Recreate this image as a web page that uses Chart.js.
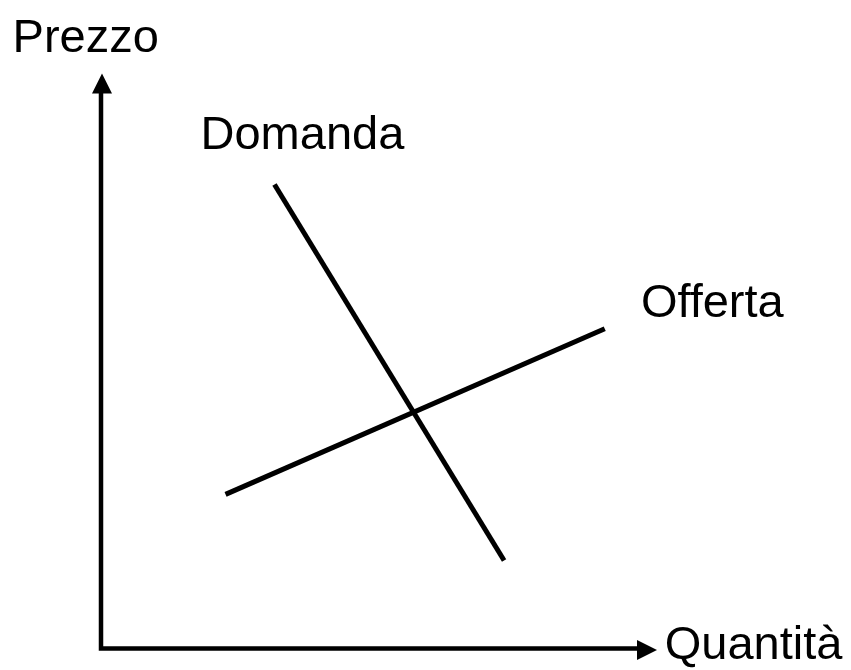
<!DOCTYPE html>
<html>
<head>
<meta charset="utf-8">
<title>Domanda e Offerta</title>
<script src="https://cdn.jsdelivr.net/npm/chart.js@4"></script>
<style>
  html, body { margin: 0; padding: 0; background: #fff; }
  canvas { display: block; }
</style>
</head>
<body>
<canvas id="myChart" width="851" height="670"></canvas>
<script>
// curve endpoints in data units (quantity, price)
const domandaX = [3.12, 7.25];
const domandaY = [8.07, 1.53];
const offertaX = [2.24, 9.06];
const offertaY = [2.68, 5.56];

// text labels anchored in data units
const labelText = ["Prezzo", "Quantità", "Domanda", "Offerta"];
const labelX = [-1.59, 10.14, 1.79, 9.71];
const labelY = [10.38, -0.19, 8.68, 5.77];

const axisMin = 0;
const axisMax = 10;

const ctx = document.getElementById("myChart").getContext("2d");

function toPoints(xs, ys) {
  return xs.map((x, i) => ({ x: x, y: ys[i] }));
}

// draws the two axes with arrow heads from the scales
const arrowAxes = {
  id: "arrowAxes",
  afterDatasetsDraw(chart) {
    const c = chart.ctx;
    const xs = chart.scales.x;
    const ys = chart.scales.y;
    const x0 = xs.getPixelForValue(axisMin);
    const y0 = ys.getPixelForValue(axisMin);
    const xEnd = xs.getPixelForValue(axisMax);
    const yEnd = ys.getPixelForValue(axisMax);
    const head = 20;
    const half = 10;
    c.save();
    c.strokeStyle = "#000";
    c.fillStyle = "#000";
    c.lineWidth = 4.5;
    c.lineCap = "square";
    c.beginPath();
    c.moveTo(x0, yEnd + head);
    c.lineTo(x0, y0);
    c.lineTo(xEnd - head, y0);
    c.stroke();
    // y arrow head
    c.beginPath();
    c.moveTo(x0 + 1, yEnd);
    c.lineTo(x0 + 1 - half, yEnd + head);
    c.lineTo(x0 + 1 + half, yEnd + head);
    c.closePath();
    c.fill();
    // x arrow head
    c.beginPath();
    c.moveTo(xEnd, y0 + 1.5);
    c.lineTo(xEnd - head, y0 + 1.5 - half);
    c.lineTo(xEnd - head, y0 + 1.5 + half);
    c.closePath();
    c.fill();
    c.restore();
  },
};

// draws the text labels at their data positions
const textLabels = {
  id: "textLabels",
  afterDraw(chart) {
    const c = chart.ctx;
    c.save();
    c.fillStyle = "#000";
    c.font = '47px "Liberation Sans", Arial, sans-serif';
    c.textAlign = "left";
    c.textBaseline = "alphabetic";
    labelText.forEach((t, i) => {
      c.fillText(
        t,
        chart.scales.x.getPixelForValue(labelX[i]),
        chart.scales.y.getPixelForValue(labelY[i])
      );
    });
    c.restore();
  },
};

const myChart = new Chart(ctx, {
  type: "line",
  data: {
    datasets: [
      {
        label: "Domanda",
        data: toPoints(domandaX, domandaY),
        borderColor: "#000",
        borderWidth: 5,
        pointRadius: 0,
        fill: false,
      },
      {
        label: "Offerta",
        data: toPoints(offertaX, offertaY),
        borderColor: "#000",
        borderWidth: 5,
        pointRadius: 0,
        fill: false,
      },
    ],
  },
  options: {
    responsive: false,
    animation: false,
    layout: {
      padding: { left: 101, right: 194, top: 73.5, bottom: 21.5 },
    },
    scales: {
      x: { type: "linear", min: axisMin, max: axisMax, display: false },
      y: { type: "linear", min: axisMin, max: axisMax, display: false },
    },
    plugins: {
      legend: { display: false },
      tooltip: { enabled: false },
    },
  },
  plugins: [arrowAxes, textLabels],
});
</script>
</body>
</html>
